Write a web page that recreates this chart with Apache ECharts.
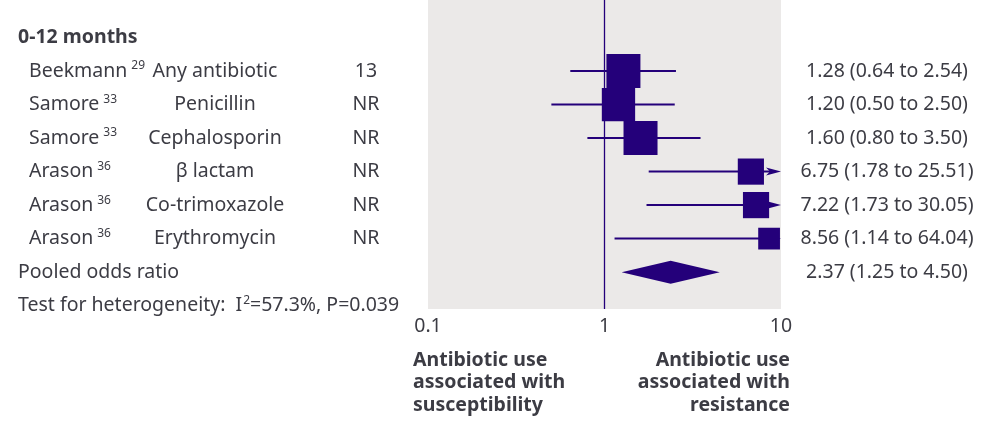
<!DOCTYPE html>
<html><head><meta charset="utf-8">
<script src="https://cdn.jsdelivr.net/npm/echarts@6/dist/echarts.min.js"></script>
<style>html,body{margin:0;padding:0;background:#fff}#c{width:1002px;height:422px}</style>
</head><body><div id="c"></div>
<script>
// ---- data ----
const groupTitle = '0-12 months';
const studies = ['Beekmann', 'Samore', 'Samore', 'Arason', 'Arason', 'Arason'];
const refs = ['29', '33', '33', '36', '36', '36'];
const antibiotics = ['Any antibiotic', 'Penicillin', 'Cephalosporin', 'β lactam', 'Co-trimoxazole', 'Erythromycin'];
const nValues = ['13', 'NR', 'NR', 'NR', 'NR', 'NR'];
const oddsRatio = [1.28, 1.20, 1.60, 6.75, 7.22, 8.56];
const ciLow = [0.64, 0.50, 0.80, 1.78, 1.73, 1.14];
const ciHigh = [2.54, 2.50, 3.50, 25.51, 30.05, 64.04];
const boxWeight = [1.0, 0.98, 1.0, 0.77, 0.77, 0.64];
const pooledLabel = 'Pooled odds ratio';
const pooledOR = 2.37, pooledLow = 1.25, pooledHigh = 4.50;
const heteroI2 = '57.3%';
const heteroP = '0.039';
const xTicks = [0.1, 1, 10];
const leftNote = ['Antibiotic use', 'associated with', 'susceptibility'];
const rightNote = ['Antibiotic use', 'associated with', 'resistance'];

// ---- styles ----
const MARK = '#24007a';
const TXT = '#3c3c44';
const FONT = 'Noto Sans';
const FS = 19.5;
const BOX = 34;
const xMin = xTicks[0], xMax = xTicks[xTicks.length - 1];
const fmt = v => v.toFixed(2);

const studyData = oddsRatio.map((v, i) => [i, v, ciLow[i], ciHigh[i], boxWeight[i]]);
const nRows = studies.length;

function renderStudy(params, api) {
  const row = api.value(0);
  const c = api.coord([api.value(1), row]);
  const lo = api.coord([api.value(2), row]);
  const hiVal = api.value(3);
  const clipped = hiVal > xMax;
  const hi = api.coord([Math.min(hiVal, xMax), row]);
  const size = api.value(4) * BOX;
  const y = c[1];
  const ch = [];
  ch.push({type: 'line', shape: {x1: lo[0], y1: y, x2: clipped ? hi[0] - 10 : hi[0], y2: y},
    style: {stroke: MARK, lineWidth: 2}});
  if (clipped) {
    ch.push({type: 'polygon', shape: {points: [[hi[0], y], [hi[0] - 15, y - 4], [hi[0] - 11, y], [hi[0] - 15, y + 4]]},
      style: {fill: MARK}});
  }
  const x0 = c[0] - size / 2;
  const x1 = Math.min(c[0] + size / 2, hi[0]);
  ch.push({type: 'rect', shape: {x: x0, y: y - size / 2, width: x1 - x0, height: size}, style: {fill: MARK}});
  return {type: 'group', children: ch};
}

function renderPooled(params, api) {
  const row = api.value(0);
  const c = api.coord([api.value(1), row]);
  const lo = api.coord([api.value(2), row]);
  const hi = api.coord([api.value(3), row]);
  const h = 11.5;
  return {type: 'polygon', shape: {points: [[lo[0], c[1]], [c[0], c[1] - h], [hi[0], c[1]], [c[0], c[1] + h]]},
    style: {fill: MARK}};
}

const rich = {
  n: {fontFamily: FONT, fontSize: FS, color: TXT, lineHeight: 22, verticalAlign: 'middle'},
  s: {fontFamily: FONT, fontSize: 12, color: TXT, lineHeight: 22, verticalAlign: 'top', padding: [0, 0, 0, 4]}
};
const richH = Object.assign({}, rich, {s: Object.assign({}, rich.s, {padding: [0, 0, 0, 1]})});

// text rows
const textData = [];
textData.push([-1, 'title']);
for (let i = 0; i < nRows; i++) textData.push([i, 'study']);
textData.push([nRows, 'pooled']);
textData.push([nRows + 1, 'hetero']);

function txt(x, y, text, align, extra) {
  return {type: 'text', x: x, y: y, style: Object.assign({text: text, fill: TXT, fontFamily: FONT, fontSize: FS,
    align: align, verticalAlign: 'middle', rich: rich}, extra || {})};
}

function renderText(params, api) {
  const d = textData[params.dataIndex];
  const row = d[0];
  const y = api.coord([1, row])[1];
  const ch = [];
  if (d[1] === 'title') {
    ch.push(txt(18, y, groupTitle, 'left', {fontWeight: 'bold'}));
  } else if (d[1] === 'study') {
    ch.push(txt(29, y, '{n|' + studies[row] + '}{s|' + refs[row] + '}', 'left'));
    ch.push(txt(215, y, antibiotics[row], 'center'));
    ch.push(txt(366, y, nValues[row], 'center'));
    ch.push(txt(887, y, fmt(oddsRatio[row]) + ' (' + fmt(ciLow[row]) + ' to ' + fmt(ciHigh[row]) + ')', 'center'));
  } else if (d[1] === 'pooled') {
    ch.push(txt(18, y, pooledLabel, 'left'));
    ch.push(txt(887, y, fmt(pooledOR) + ' (' + fmt(pooledLow) + ' to ' + fmt(pooledHigh) + ')', 'center'));
  } else {
    ch.push(txt(18, y, '{n|Test for heterogeneity:  I}{s|2}{n|=' + heteroI2 + ', P=' + heteroP + '}', 'left',
      {rich: richH}));
  }
  return {type: 'group', children: ch};
}

const chart = echarts.init(document.getElementById('c'), null, {renderer: 'canvas'});
chart.setOption({
  animation: false,
  backgroundColor: '#ffffff',
  grid: {left: 428, top: 0, width: 353, height: 309, show: true, backgroundColor: '#ebe9e8', borderWidth: 0},
  xAxis: {
    type: 'log', logBase: 10, min: xMin, max: xMax,
    axisLine: {show: false}, axisTick: {show: false}, splitLine: {show: false},
    axisLabel: {color: TXT, fontFamily: FONT, fontSize: FS, margin: 7,
      formatter: v => String(+(+v).toPrecision(3))}
  },
  yAxis: {type: 'value', inverse: true, min: -2.12, max: 7.1, show: false},
  series: [
    {type: 'custom', name: 'studies', renderItem: renderStudy, data: studyData,
      encode: {x: [1, 2, 3], y: 0}, clip: false, z: 3,
      markLine: {silent: true, symbol: 'none', label: {show: false},
        lineStyle: {color: MARK, width: 1.3, type: 'solid'}, data: [{xAxis: 1}]}},
    {type: 'custom', name: 'pooled', renderItem: renderPooled, data: [[nRows, pooledOR, pooledLow, pooledHigh]],
      encode: {x: [1, 2, 3], y: 0}, z: 3},
    {type: 'custom', name: 'labels', renderItem: renderText, data: textData.map(d => [d[0]]),
      encode: {y: 0}, clip: false, z: 4, silent: true}
  ],
  graphic: [
    {type: 'text', x: 413, y: 349, style: {text: leftNote.join('\n'), fill: TXT, fontFamily: FONT,
      fontSize: FS, fontWeight: 'bold', lineHeight: 22.5, align: 'left', verticalAlign: 'top'}},
    {type: 'text', x: 790, y: 349, style: {text: rightNote.join('\n'), fill: TXT, fontFamily: FONT,
      fontSize: FS, fontWeight: 'bold', lineHeight: 22.5, align: 'right', verticalAlign: 'top'}}
  ]
});
</script>
</body></html>
